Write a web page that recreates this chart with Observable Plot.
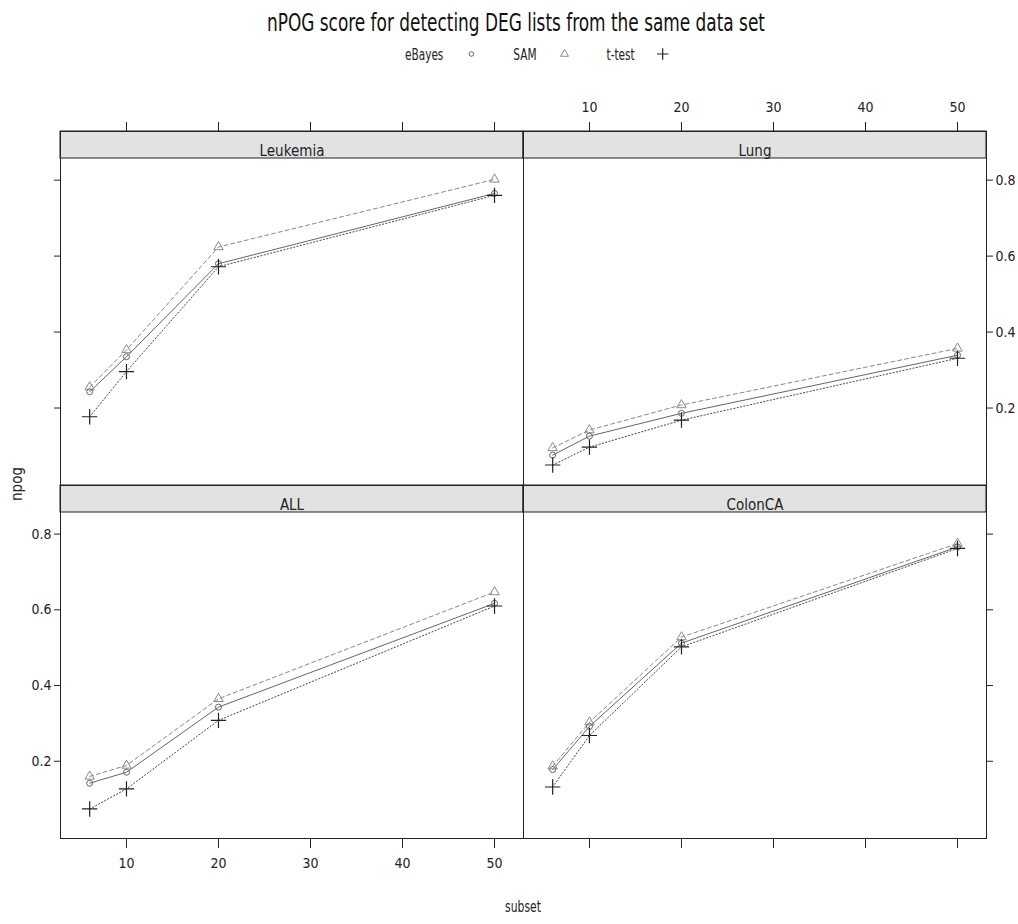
<!DOCTYPE html>
<html><head><meta charset="utf-8">
<script src="https://cdn.jsdelivr.net/npm/d3@7"></script>
<script src="https://cdn.jsdelivr.net/npm/@observablehq/plot@0.6"></script>
<style>
body{margin:0;background:#fff;}
#chart{position:relative;width:1018px;height:924px;overflow:hidden;}
.abs{position:absolute;}
</style></head><body><div id="chart"></div>
<script>
const FONT = '"Liberation Sans Narrow","Arial Narrow","DejaVu Sans Condensed",sans-serif';

// ---- data ----
const subsets = [6, 10, 20, 50];
const datasets = ["Leukemia", "Lung", "ALL", "ColonCA"];
const methods = ["eBayes", "SAM", "t-test"];
const xTicks = [10, 20, 30, 40, 50];
const yTicks = [0.2, 0.4, 0.6, 0.8];

const eBayesLeukemia = [0.243, 0.335, 0.580, 0.765];
const eBayesLung     = [0.076, 0.126, 0.186, 0.339];
const eBayesALL      = [0.142, 0.171, 0.343, 0.617];
const eBayesColonCA  = [0.178, 0.292, 0.512, 0.766];

const samLeukemia = [0.255, 0.353, 0.624, 0.802];
const samLung     = [0.095, 0.142, 0.208, 0.357];
const samALL      = [0.160, 0.189, 0.365, 0.647];
const samColonCA  = [0.187, 0.303, 0.528, 0.775];

const ttestLeukemia = [0.177, 0.296, 0.572, 0.760];
const ttestLung     = [0.050, 0.097, 0.168, 0.331];
const ttestALL      = [0.074, 0.127, 0.308, 0.610];
const ttestColonCA  = [0.132, 0.268, 0.502, 0.762];

const seriesValues = {
  "eBayes": {Leukemia: eBayesLeukemia, Lung: eBayesLung, ALL: eBayesALL, ColonCA: eBayesColonCA},
  "SAM":    {Leukemia: samLeukemia, Lung: samLung, ALL: samALL, ColonCA: samColonCA},
  "t-test": {Leukemia: ttestLeukemia, Lung: ttestLung, ALL: ttestALL, ColonCA: ttestColonCA}
};
const rows = [];
for (const m of methods) for (const ds of datasets)
  subsets.forEach((s, i) => rows.push({method: m, dataset: ds, subset: s, npog: seriesValues[m][ds][i]}));

// ---- styles ----
const style = {
  "eBayes": {stroke: "#666", dash: null, symbol: "circle", sym: "#666", r: 3, sw: 1},
  "SAM":    {stroke: "#888", dash: "4,3", symbol: "triangle2", sym: "#8a8a8a", r: 4.5, sw: 1},
  "t-test": {stroke: "#444", dash: "1.2,2.2", symbol: "plus", sym: "#222", r: 5, sw: 1.2}
};
const drawOrder = ["SAM", "eBayes", "t-test"];

const xDomain = [2.83, 53.15];
const yDomain = [-0.004, 0.857];

const chart = document.getElementById("chart");
const M = 60, W = 463, STRIP = 27;

// layout of the 2x2 lattice
const panels = [
  {name: "Leukemia", x0: 60,  y0: 131, ph: 327, xa: "top",    xl: false, ya: "left",  yl: false},
  {name: "Lung",     x0: 523, y0: 131, ph: 327, xa: "top",    xl: true,  ya: "right", yl: true},
  {name: "ALL",      x0: 60,  y0: 485, ph: 326, xa: "bottom", xl: true,  ya: "left",  yl: true},
  {name: "ColonCA",  x0: 523, y0: 485, ph: 326, xa: "bottom", xl: false, ya: "right", yl: false}
];

for (const p of panels) {
  const H = STRIP + p.ph;
  const data = rows.filter(d => d.dataset === p.name);
  const marks = [];
  for (const m of drawOrder) {
    const s = style[m];
    const dd = data.filter(d => d.method === m);
    marks.push(Plot.line(dd, {x: "subset", y: "npog", stroke: s.stroke, strokeWidth: 1, strokeDasharray: s.dash}));
  }
  for (const m of drawOrder) {
    const s = style[m];
    const dd = data.filter(d => d.method === m);
    marks.push(Plot.dot(dd, {x: "subset", y: "npog", symbol: s.symbol, r: s.r, stroke: s.sym, strokeWidth: s.sw, fill: "none"}));
  }
  marks.push(Plot.text([p.name], {frameAnchor: "top", dy: STRIP / 2, fontSize: 15, fill: "#222"}));
  marks.push(Plot.axisX({anchor: p.xa, ticks: xTicks, tickSize: 10, tickPadding: 10, stroke: "#222", fill: "#222",
    tickFormat: p.xl ? (d => d) : (() => ""), label: null, fontSize: 14}));
  marks.push(Plot.axisY({anchor: p.ya, ticks: yTicks, tickSize: 6, tickPadding: 3, stroke: "#222", fill: "#222",
    tickFormat: p.yl ? (d => d.toFixed(1)) : (() => ""), label: null, fontSize: 14}));
  marks.push(Plot.frame({stroke: "#222", strokeWidth: 1}));

  const svg = Plot.plot({
    width: W + 2 * M, height: H + 2 * M, margin: M,
    style: {background: "transparent", overflow: "visible", fontFamily: FONT, fontSize: "14px", maxWidth: "none"},
    x: {domain: xDomain, label: null},
    y: {domain: yDomain, range: [M + H, M + STRIP], label: null},
    marks
  });
  // strip background
  d3.select(svg).insert("rect", ":first-child")
    .attr("x", M).attr("y", M).attr("width", W).attr("height", STRIP)
    .attr("fill", "#e2e2e2").attr("stroke", "#222");
  const div = document.createElement("div");
  div.className = "abs";
  div.style.left = (p.x0 - M) + "px";
  div.style.top = (p.y0 - M) + "px";
  div.appendChild(svg);
  chart.appendChild(div);
}

// ---- overlay: title, key, axis titles ----
const ov = d3.select(chart).append("svg").attr("class", "abs")
  .attr("width", 1018).attr("height", 924).style("left", "0px").style("top", "0px")
  .style("pointer-events", "none").style("font-family", FONT);

ov.append("text").attr("x", 516).attr("y", 31).attr("text-anchor", "middle")
  .attr("font-size", 25).attr("fill", "#111")
  .attr("textLength", 498).attr("lengthAdjust", "spacingAndGlyphs")
  .text("nPOG score for detecting DEG lists from the same data set");

const symMap = {
  circle: d3.symbolCircle,
  triangle2: d3.symbolTriangle2 || d3.symbolTriangle,
  plus: d3.symbolPlus || d3.symbolCross
};
const key = ov.append("g").attr("transform", "translate(405,60)");
let kx = 0;
for (const m of methods) {
  const s = style[m];
  const t = key.append("text").attr("x", kx).attr("y", 0).attr("font-size", 15).attr("fill", "#222").text(m);
  const w = t.node().getComputedTextLength() * 0.78;
  t.attr("textLength", w).attr("lengthAdjust", "spacingAndGlyphs");
  const sx = kx + w + 28;
  key.append("path").attr("transform", `translate(${sx},-6)`)
    .attr("d", d3.symbol(symMap[s.symbol], s.symbol === "circle" ? 16 : 45)())
    .attr("fill", "none").attr("stroke", s.sym).attr("stroke-width", s.sw);
  kx = sx + 42;
}

ov.append("text").attr("transform", "translate(22,484) rotate(-90)").attr("text-anchor", "middle")
  .attr("font-size", 15).attr("fill", "#222").text("npog");
const sub = ov.append("text").attr("x", 523).attr("y", 912).attr("text-anchor", "middle")
  .attr("font-size", 15).attr("fill", "#222").text("subset");
sub.attr("textLength", sub.node().getComputedTextLength() * 0.8).attr("lengthAdjust", "spacingAndGlyphs");
</script></body></html>
